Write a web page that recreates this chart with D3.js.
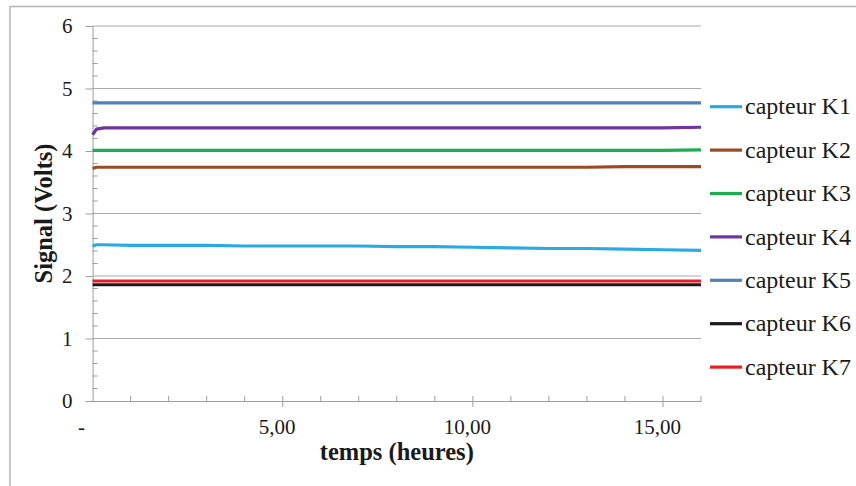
<!DOCTYPE html>
<html>
<head>
<meta charset="utf-8">
<script src="https://cdn.jsdelivr.net/npm/d3@7"></script>
<style>
  body { margin: 0; background: #fff; }
</style>
</head>
<body>
<svg id="chart"></svg>
<script>
// time in hours
const times = [0, 0.1, 0.3, 1, 2, 3, 4, 5, 6, 7, 8, 9, 10, 11, 12, 13, 14, 15, 16];

const k1 = [2.48, 2.50, 2.50, 2.49, 2.49, 2.49, 2.48, 2.48, 2.48, 2.48, 2.47, 2.47, 2.46, 2.45, 2.44, 2.44, 2.43, 2.42, 2.41];
const k2 = [3.72, 3.74, 3.74, 3.74, 3.74, 3.74, 3.74, 3.74, 3.74, 3.74, 3.74, 3.74, 3.74, 3.74, 3.74, 3.74, 3.75, 3.75, 3.75];
const k3 = [4.01, 4.01, 4.01, 4.01, 4.01, 4.01, 4.01, 4.01, 4.01, 4.01, 4.01, 4.01, 4.01, 4.01, 4.01, 4.01, 4.01, 4.01, 4.02];
const k4 = [4.26, 4.35, 4.37, 4.37, 4.37, 4.37, 4.37, 4.37, 4.37, 4.37, 4.37, 4.37, 4.37, 4.37, 4.37, 4.37, 4.37, 4.37, 4.38];
const k5 = [4.77, 4.77, 4.77, 4.77, 4.77, 4.77, 4.77, 4.77, 4.77, 4.77, 4.77, 4.77, 4.77, 4.77, 4.77, 4.77, 4.77, 4.77, 4.77];
const k6 = [1.86, 1.86, 1.86, 1.86, 1.86, 1.86, 1.86, 1.86, 1.86, 1.86, 1.86, 1.86, 1.86, 1.86, 1.86, 1.86, 1.86, 1.86, 1.86];
const k7 = [1.92, 1.92, 1.92, 1.92, 1.92, 1.92, 1.92, 1.92, 1.92, 1.92, 1.92, 1.92, 1.92, 1.92, 1.92, 1.92, 1.92, 1.92, 1.92];

const seriesNames = ["capteur K1", "capteur K2", "capteur K3", "capteur K4", "capteur K5", "capteur K6", "capteur K7"];
const seriesValues = [k1, k2, k3, k4, k5, k6, k7];
const seriesColors = ["#2aaae2", "#9c4a22", "#1bae4e", "#7034a0", "#4f81bd", "#1a1a1a", "#ec1c24"];
const xTicks = [0, 5, 10, 15];
const yTicks = [0, 1, 2, 3, 4, 5, 6];

const serif = '"Liberation Serif", "Times New Roman", serif';

const svgWidth = 856;
const svgHeight = 486;
const plot = { left: 92.6, right: 701, top: 26, bottom: 401 };

const svg = d3.select("#chart").attr("width", svgWidth).attr("height", svgHeight);

const x = d3.scaleLinear().domain([0, 16]).range([plot.left, plot.right]);
const y = d3.scaleLinear().domain([0, 6]).range([plot.bottom, plot.top]);

// outer frame (only top and left edges are visible)
svg.append("path")
  .attr("d", `M10,${svgHeight} V6.5 H${svgWidth}`)
  .attr("fill", "none")
  .attr("stroke", "#b5b5b5")
  .attr("stroke-width", 1.5);

// horizontal gridlines
svg.append("g")
  .selectAll("line")
  .data(yTicks.slice(1))
  .join("line")
  .attr("x1", plot.left)
  .attr("x2", plot.right)
  .attr("y1", (d) => y(d))
  .attr("y2", (d) => y(d))
  .attr("stroke", "#a9a9a9")
  .attr("stroke-width", 1);

// y axis: major ticks outside, minor ticks inside
const yAxis = svg.append("g").attr("transform", `translate(${plot.left},0)`);
yAxis.call(d3.axisLeft(y).tickValues(yTicks).tickSize(7).tickFormat((d) => d).tickPadding(13));
yAxis.select(".domain").attr("stroke", "#9d9d9d");
yAxis.selectAll(".tick line").attr("stroke", "#9d9d9d");
yAxis.selectAll(".tick text")
  .style("font-family", serif)
  .style("font-size", "21px")
  .attr("fill", "#1a1a1a");
yAxis.append("g")
  .selectAll("line")
  .data(d3.range(0, 6.01, 0.2).filter((v) => Math.abs(v - Math.round(v)) > 0.01))
  .join("line")
  .attr("x1", 0)
  .attr("x2", 5)
  .attr("y1", (d) => y(d))
  .attr("y2", (d) => y(d))
  .attr("stroke", "#9d9d9d");

// x axis: major ticks cross the axis, minor ticks inside
const xAxis = svg.append("g").attr("transform", `translate(0,${plot.bottom})`);
xAxis.call(d3.axisBottom(x).tickValues(xTicks).tickSize(0).tickFormat(""));
xAxis.select(".domain").attr("stroke", "#9d9d9d");
xAxis.selectAll(".tick").remove();
xAxis.append("g")
  .selectAll("line")
  .data(d3.range(1, 17))
  .join("line")
  .attr("x1", (d) => x(d))
  .attr("x2", (d) => x(d))
  .attr("y1", (d) => (d % 5 === 0 ? 6 : 0))
  .attr("y2", -5)
  .attr("stroke", "#9d9d9d");
xAxis.append("g")
  .selectAll("text")
  .data(xTicks)
  .join("text")
  .attr("x", (d) => x(d) + (d === 0 ? -11 : -5.5))
  .attr("y", 33)
  .attr("text-anchor", "middle")
  .attr("fill", "#1a1a1a")
  .style("font-family", serif)
  .style("font-size", "21px")
  .text((d) => (d === 0 ? "-" : d3.format(".2f")(d).replace(".", ",")));

// axis titles
svg.append("text")
  .attr("x", (plot.left + plot.right) / 2)
  .attr("y", 460)
  .attr("text-anchor", "middle")
  .attr("fill", "#1a1a1a")
  .style("font-family", serif)
  .style("font-weight", "bold")
  .style("font-size", "24.5px")
  .text("temps (heures)");

svg.append("text")
  .attr("transform", `translate(52,${(plot.top + plot.bottom) / 2}) rotate(-90)`)
  .attr("text-anchor", "middle")
  .attr("fill", "#1a1a1a")
  .style("font-family", serif)
  .style("font-weight", "bold")
  .style("font-size", "24.5px")
  .text("Signal (Volts)");

// series lines
const line = d3.line()
  .x((d, i) => x(times[i]))
  .y((d) => y(d));

svg.append("g")
  .selectAll("path")
  .data(seriesValues)
  .join("path")
  .attr("d", (d) => line(d))
  .attr("fill", "none")
  .attr("stroke", (d, i) => seriesColors[i])
  .attr("stroke-width", 3.2)
  .attr("stroke-linejoin", "round");

// legend
const legend = svg.append("g")
  .selectAll("g")
  .data(seriesNames)
  .join("g")
  .attr("transform", (d, i) => `translate(710,${106.7 + i * 43.4})`);
legend.append("line")
  .attr("x1", 0)
  .attr("x2", 32)
  .attr("stroke", (d, i) => seriesColors[i])
  .attr("stroke-width", 3.2);
legend.append("text")
  .attr("x", 35)
  .attr("y", 7.7)
  .attr("fill", "#1a1a1a")
  .style("font-family", serif)
  .style("font-size", "24px")
  .text((d) => d);
</script>
</body>
</html>
